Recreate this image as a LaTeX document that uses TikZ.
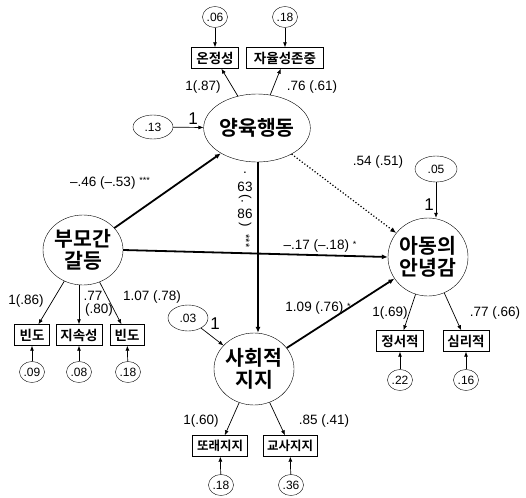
\documentclass[tikz,border=0pt]{standalone}
\usepackage{fontspec}
\setmainfont{Liberation Sans}
\newfontfamily\kr{Noto Sans CJK KR}[BoldFont={Noto Sans CJK KR Bold}]
\usetikzlibrary{shapes.geometric,arrows.meta}
\newcommand{\st}[1]{\raisebox{0.35ex}{\fontsize{9}{9}\selectfont #1}}
\begin{document}
\begin{tikzpicture}[x=1pt,y=-1pt,
  latent/.style={draw,ellipse,inner sep=0pt,font=\kr\bfseries\fontsize{20.5}{22}\selectfont,align=center},
  err/.style={draw,ellipse,inner sep=0pt,minimum width=40pt,minimum height=24pt,font=\fontsize{12}{14}\selectfont},
  res/.style={draw,ellipse,inner sep=0pt,minimum width=25pt,minimum height=21pt,font=\fontsize{12}{14}\selectfont},
  obs/.style={draw,rectangle,inner sep=0pt,minimum height=21pt,font=\kr\bfseries\fontsize{13.5}{15}\selectfont},
  lab/.style={font=\fontsize{13.5}{15}\selectfont,inner sep=0pt},
  one/.style={font=\fontsize{17}{19}\selectfont,inner sep=0pt},
  thin/.style={-{Latex[length=5pt,width=4pt]},line width=0.7pt},
  thick/.style={-{Latex[length=6pt,width=5pt]},line width=1.8pt},
  dott/.style={-{Latex[length=6pt,width=5pt]},line width=1.2pt,dotted}
]
\useasboundingbox (0,0) rectangle (526,497);
% latent variables
\node[latent,minimum width=82pt,minimum height=68pt] (Y) at (257,128) {양육행동};
\node[latent,minimum width=78pt,minimum height=70pt] (P) at (83,250) {부모간\\갈등};
\node[latent,minimum width=70pt,minimum height=78pt] (C) at (428,257) {아동의\\안녕감};
\node[latent,minimum width=78pt,minimum height=72pt] (S) at (254,369) {사회적\\지지};
% indicators of Y
\node[obs,minimum width=47pt] (y1) at (215,58) {온정성};
\node[obs,minimum width=77pt] (y2) at (285,58) {자율성존중};
\node[res] (ry1) at (215,17) {.06};
\node[res] (ry2) at (285,17) {.18};
\draw[thin] (ry1) -- (y1);
\draw[thin] (ry2) -- (y2);
\draw[thin] (Y) -- (y1);
\draw[thin] (Y) -- (y2);
\node[lab] at (203,87) {1(.87)};
\node[lab] at (312,87) {.76 (.61)};
% error of Y
\node[err] (eY) at (153,127) {.13};
\draw[thin] (eY) -- (Y);
\node[one] at (193,119) {1};
% indicators of P
\node[obs,minimum width=35pt] (p1) at (32,335) {빈도};
\node[obs,minimum width=46pt] (p2) at (79,335) {지속성};
\node[obs,minimum width=34pt] (p3) at (127,335) {빈도};
\node[res] (rp1) at (32,372) {.09};
\node[res] (rp2) at (79,372) {.08};
\node[res] (rp3) at (128,372) {.18};
\draw[thin] (rp1) -- (p1);
\draw[thin] (rp2) -- (p2);
\draw[thin] (rp3) -- (p3);
\draw[thin] (P) -- (p1);
\draw[thin] (P.south -| p2) -- (p2);
\draw[thin] (P) -- (p3);
\node[lab] at (26,301) {1(.86)};
\node[lab] at (93,296) {.77};
\node[lab] at (99,310) {(.80)};
\node[lab] at (152,297) {1.07 (.78)};
% indicators of C
\node[obs,minimum width=47pt] (c1) at (400,341) {정서적};
\node[obs,minimum width=46pt] (c2) at (466,341) {심리적};
\node[res] (rc1) at (400,380) {.22};
\node[res] (rc2) at (466,380) {.16};
\draw[thin] (rc1) -- (c1);
\draw[thin] (rc2) -- (c2);
\draw[thin] (C) -- (c1);
\draw[thin] (C) -- (c2);
\node[lab] at (390,313) {1(.69)};
\node[lab] at (495,313) {.77 (.66)};
% error of C
\node[err,minimum width=42pt,minimum height=26pt] (eC) at (436,169) {.05};
\draw[thin] (eC.south) -- (C.north -| eC.south);
\node[one] at (429,205) {1};
% indicators of S
\node[obs,minimum width=55pt,font=\kr\bfseries\fontsize{12.5}{14}\selectfont] (s1) at (220,446) {또래지지};
\node[obs,minimum width=54pt,font=\kr\bfseries\fontsize{12.5}{14}\selectfont] (s2) at (290,446) {교사지지};
\node[res] (rs1) at (221,485) {.18};
\node[res] (rs2) at (291,485) {.36};
\draw[thin] (rs1) -- (s1);
\draw[thin] (rs2) -- (s2);
\draw[thin] (S) -- (s1);
\draw[thin] (S) -- (s2);
\node[lab] at (201,421) {1(.60)};
\node[lab] at (324,421) {.85 (.41)};
% error of S
\node[err,minimum height=26pt] (eS) at (188,318) {.03};
\draw[thin] (eS) -- (S);
\node[one] at (215,324) {1};
% structural paths
\draw[thick] (P) -- (Y);
\node[lab] at (110,183) {–.46 (–.53) \st{***}};
\draw[thick] (P.east) -- (C.west);
\node[lab] at (320,246) {–.17 (–.18) \st{*}};
\draw[thick] (Y.south -| 258,0) -- (S.north -| 258,0);
\draw[dott] (Y) -- (C);
\node[lab] at (378,162) {.54 (.51)};
\draw[thick] (S) -- (C);
\node[lab] at (318,308) {1.09 (.76) \st{*}};
% vertical label
\node[lab] at (245,173) {.};
\node[lab] at (245,187) {63};
\node[lab,rotate=-90] at (245,199) {(.};
\node[lab] at (245,214) {86};
\node[lab,rotate=-90] at (245,225) {)};
\node[lab,rotate=-90,font=\fontsize{11}{11}\selectfont] at (246,241) {***};
\end{tikzpicture}
\end{document}
